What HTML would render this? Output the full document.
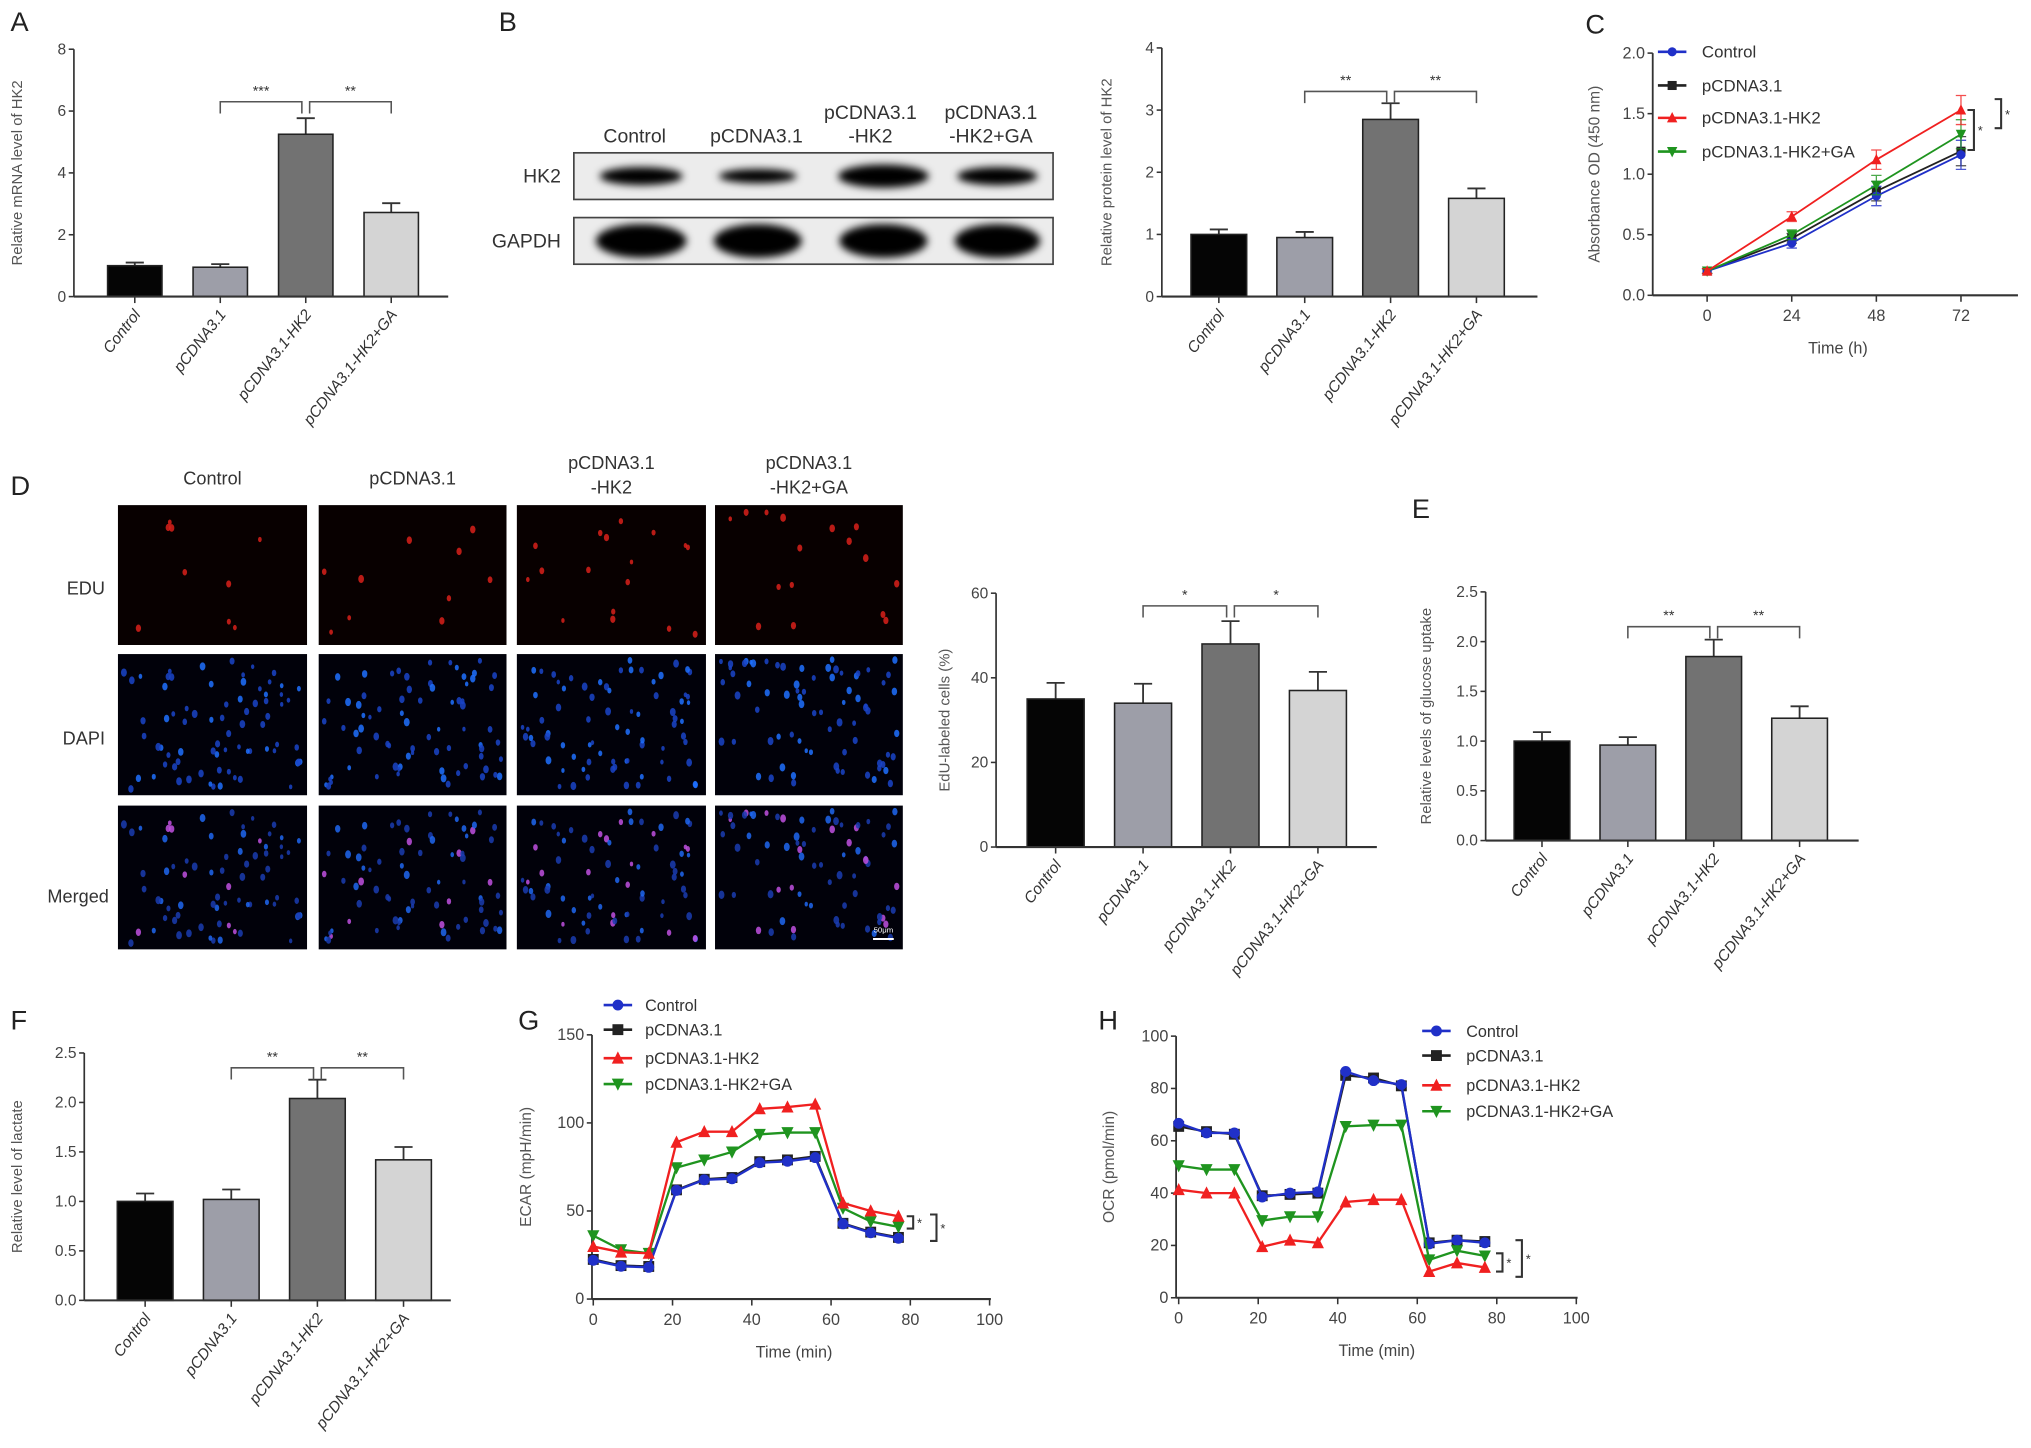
<!DOCTYPE html>
<html><head><meta charset="utf-8"><title>HK2 figure</title>
<style>
html,body{margin:0;padding:0;background:#fff;}
svg{display:block;font-family:"Liberation Sans",Arial,sans-serif;}
.nar{font-family:"Liberation Sans Narrow","Liberation Sans",sans-serif;}
</style></head>
<body>
<svg id="fig" xmlns="http://www.w3.org/2000/svg" width="2031" height="1448" viewBox="0 0 1568 1118">
<rect x="0" y="0" width="1568" height="1118" fill="#fff"/>
</svg>
<script>
// ---------- data ----------
const barCats = ['Control','pCDNA3.1','pCDNA3.1-HK2','pCDNA3.1-HK2+GA'];
const aVals = [1.0, 0.95, 5.25, 2.72];
const aErr  = [0.1, 0.1, 0.52, 0.3];
const aTicks = [0,2,4,6,8];
const bVals = [1.0, 0.95, 2.85, 1.58];
const bErr  = [0.08, 0.09, 0.26, 0.16];
const bTicks = [0,1,2,3,4];
const dVals = [35, 34, 48, 37];
const dErr  = [3.8, 4.6, 5.4, 4.4];
const dTicks = [0,20,40,60];
const eVals = [1.0, 0.96, 1.85, 1.23];
const eErr  = [0.09, 0.08, 0.17, 0.12];
const eTicks = [0,0.5,1.0,1.5,2.0,2.5];
const fVals = [1.0, 1.02, 2.04, 1.42];
const fErr  = [0.08, 0.1, 0.19, 0.13];
const fTicks = [0,0.5,1.0,1.5,2.0,2.5];
const seriesNames = ['Control','pCDNA3.1','pCDNA3.1-HK2','pCDNA3.1-HK2+GA'];
const cTimes = [0,24,48,72];
const cControl = [0.2,0.43,0.82,1.16];
const cVector  = [0.2,0.47,0.86,1.19];
const cHK2     = [0.2,0.65,1.12,1.53];
const cGA      = [0.2,0.5,0.91,1.33];
const cErrs    = [0.02,0.04,0.08,0.12];
const cTicksY = [0,0.5,1.0,1.5,2.0];
const seahTimes = [0,7,14,21,28,35,42,49,56,63,70,77];
const gControl = [22,18.6,18,61.7,67.7,68.3,77.4,78.2,80.3,42.7,37.6,34.5];
const gVector  = [22.5,19,18.5,62,68,69,78,79,81,43,38,35];
const gHK2     = [29.8,26.6,26,89,95,95,108,109,110.6,54.5,50,47];
const gGA      = [36,28,26,74.6,79,83.5,93.5,94.5,94.5,51.6,44,41];
const gTicksY = [0,50,100,150];
const hControl = [66.7,63,63,38.5,40,40.5,86.5,83,81.5,20.6,22,21];
const hVector  = [65.5,63.5,62.5,39,39.5,40,85,84,81,21,22,21.5];
const hHK2     = [41.3,40,40,19.5,22,21,36.6,37.5,37.5,10,13.3,11.6];
const hGA      = [50.5,49,49,29.5,31,31,65.5,66,66,14.5,18,16];
const hTicksY = [0,20,40,60,80,100];
const timeTicks = [0,20,40,60,80,100];

const NS='http://www.w3.org/2000/svg';
const svg=document.getElementById('fig');
function el(tag, attrs, parent){
  const e=document.createElementNS(NS,tag);
  for(const k in attrs) e.setAttribute(k,attrs[k]);
  (parent||svg).appendChild(e);
  return e;
}
function txt(str, attrs, parent){
  const e=el('text',attrs,parent);
  e.textContent=str;
  return e;
}
function panelLabel(ch,x,y){
  const t=txt(ch,{x:x,y:y,'font-size':21,fill:'#222'});
  
  
}
const barColors=['#050505','#9d9ea8','#727272','#d4d4d4'];
function fmt(v,dec){return dec?v.toFixed(dec):String(v);}

function barChart(key,cfg,vals,errs,ticks){
  const g=el('g',{});
  
  
  const ys=v=>cfg.y0-(v/cfg.max)*(cfg.y0-cfg.yTop);
  const xc=i=>cfg.c0+i*cfg.step;
  const ya=el('line',{x1:cfg.ax,y1:cfg.yTop,x2:cfg.ax,y2:cfg.y0,stroke:'#333','stroke-width':1.3},g);
  
  
  ticks.forEach(t=>{
    const y=ys(t);
    const tk=el('line',{x1:cfg.ax-4,y1:y,x2:cfg.ax,y2:y,stroke:'#333','stroke-width':1.2},g);
    
    
    const tl=txt(fmt(t,cfg.dec),{x:cfg.ax-6,y:y+4,'font-size':12,'text-anchor':'end',fill:'#444',class:'nar'},g);
    
    
  });
  const ttl=txt(cfg.title,{x:0,y:0,'font-size':11.5,'text-anchor':'middle',fill:'#555',transform:'translate('+cfg.titleX+','+((cfg.yTop+cfg.y0)/2)+') rotate(-90)'},g);
  
  
  vals.forEach((v,i)=>{
    const x=xc(i), y=ys(v), ye=ys(v+errs[i]);
    const eb=el('path',{d:'M'+x+' '+y+'V'+ye+'M'+(x-7)+' '+ye+'H'+(x+7),stroke:'#333','stroke-width':1.4,fill:'none'},g);
    
    
    const b=el('rect',{x:x-cfg.bw/2,y:y,width:cfg.bw,height:cfg.y0-y,fill:barColors[i],stroke:'#222','stroke-width':1.2},g);
    
    
  });
  const xa=el('line',{x1:cfg.ax,y1:cfg.y0,x2:cfg.xEnd,y2:cfg.y0,stroke:'#333','stroke-width':1.6},g);
  
  
  barCats.forEach((c,i)=>{
    const x=xc(i);
    const tk=el('line',{x1:x,y1:cfg.y0,x2:x,y2:cfg.y0+5,stroke:'#333','stroke-width':1.2},g);
    
    
    const tl=txt(c,{x:0,y:0,'font-size':12,'text-anchor':'end',fill:'#333','font-style':'italic',class:'nar',transform:'translate('+(x+5)+','+(cfg.y0+14)+') rotate(-52)'},g);
    
    
  });
  const by=ys(cfg.sigY);
  [[1,2],[2,3]].forEach((p,k)=>{
    const x1=xc(p[0])+(k===1?3:0), x2=xc(p[1])-(k===0?3:0);
    const br=el('path',{d:'M'+x1+' '+(by+9)+'V'+by+'H'+x2+'V'+(by+9),stroke:'#555','stroke-width':1.2,fill:'none'},g);
    
    
    const st=txt(cfg.stars[k],{x:(x1+x2)/2,y:by-5,'font-size':11,'text-anchor':'middle',fill:'#333'},g);
    
    
  });
}

barChart('a',{ax:57,y0:229,yTop:38,max:8,c0:104,step:66,bw:42,xEnd:346,title:'Relative  mRNA level of HK2',titleX:17,sigY:6.3,stars:['***','**']},aVals,aErr,aTicks);
barChart('b',{ax:897,y0:229,yTop:37,max:4,c0:941,step:66.3,bw:43,xEnd:1187,title:'Relative  protein level of HK2',titleX:858,sigY:3.3,stars:['**','**']},bVals,bErr,bTicks);
barChart('d',{ax:769,y0:654,yTop:458,max:60,c0:815,step:67.5,bw:44,xEnd:1063,title:'EdU-labeled cells (%)',titleX:733,sigY:57,stars:['*','*']},dVals,dErr,dTicks);
barChart('e',{ax:1147,y0:649,yTop:457,max:2.5,c0:1190.5,step:66.3,bw:43,xEnd:1435,title:'Relative levels of glucose uptake',titleX:1105,sigY:2.15,stars:['**','**'],dec:1},eVals,eErr,eTicks);
barChart('f',{ax:65,y0:1004,yTop:813,max:2.5,c0:112,step:66.5,bw:43,xEnd:348,title:'Relative level of lactate',titleX:17,sigY:2.35,stars:['**','**'],dec:1},fVals,fErr,fTicks);

// ---------- line charts ----------
const lineStyles=[
  {color:'#2030c8',marker:'circle'},
  {color:'#222',marker:'square'},
  {color:'#f02020',marker:'up'},
  {color:'#1f941f',marker:'down'}
];
function marker(type,x,y,r,color,parent){
  let e;
  if(type==='circle') e=el('circle',{cx:x,cy:y,r:r,fill:color},parent);
  else if(type==='square') e=el('rect',{x:x-r,y:y-r,width:2*r,height:2*r,fill:color},parent);
  else if(type==='up') e=el('path',{d:'M'+x+' '+(y-r-1)+'L'+(x+r+0.5)+' '+(y+r)+'L'+(x-r-0.5)+' '+(y+r)+'Z',fill:color},parent);
  else e=el('path',{d:'M'+x+' '+(y+r+1)+'L'+(x+r+0.5)+' '+(y-r)+'L'+(x-r-0.5)+' '+(y-r)+'Z',fill:color},parent);
  return e;
}
function lineChart(key,cfg,xs,series,ticksY,ticksX,order){
  const g=el('g',{});
  
  
  const sx=v=>cfg.x0+(v-cfg.xmin)/(cfg.xmax-cfg.xmin)*(cfg.x1-cfg.x0);
  const sy=v=>cfg.y0-v/cfg.ymax*(cfg.y0-cfg.yTop);
  const cls=cfg.narrow?'nar':'';
  const ya=el('line',{x1:cfg.ax,y1:cfg.yTop,x2:cfg.ax,y2:cfg.y0,stroke:'#333','stroke-width':1.4},g);
  
  
  const xa=el('line',{x1:cfg.ax,y1:cfg.y0,x2:cfg.xEnd,y2:cfg.y0,stroke:'#333','stroke-width':1.6},g);
  
  
  ticksY.forEach(t=>{
    const y=sy(t);
    const tk=el('line',{x1:cfg.ax-4,y1:y,x2:cfg.ax,y2:y,stroke:'#333','stroke-width':1.2},g);
    
    
    const tl=txt(fmt(t,cfg.dec),{x:cfg.ax-6,y:y+4,'font-size':12.5,'text-anchor':'end',fill:'#444',class:cls},g);
    
    
  });
  ticksX.forEach(t=>{
    const x=sx(t);
    const tk=el('line',{x1:x,y1:cfg.y0,x2:x,y2:cfg.y0+5,stroke:'#333','stroke-width':1.2},g);
    
    
    const tl=txt(String(t),{x:x,y:cfg.y0+20,'font-size':12.5,'text-anchor':'middle',fill:'#444',class:cls},g);
    
    
  });
  const xt=txt(cfg.xTitle,{x:cfg.xTitleX,y:cfg.y0+45,'font-size':12.5,'text-anchor':'middle',fill:'#444',class:cls},g);
  
  
  const yt=txt(cfg.yTitle,{x:0,y:0,'font-size':12,'text-anchor':'middle',fill:'#555',transform:'translate('+cfg.yTitleX+','+((cfg.yTop+cfg.y0)/2)+') rotate(-90)'},g);
  
  
  order.forEach(si=>{
    const vals=series[si], st=lineStyles[si];
    const sg=el('g',{},g);
    
    
    if(cfg.errs){
      vals.forEach((v,i)=>{
        const x=sx(xs[i]);
        const eb=el('path',{d:'M'+x+' '+sy(v-cfg.errs[i])+'V'+sy(v+cfg.errs[i])+'M'+(x-4)+' '+sy(v+cfg.errs[i])+'H'+(x+4)+'M'+(x-4)+' '+sy(v-cfg.errs[i])+'H'+(x+4),stroke:st.color,'stroke-width':1,fill:'none',opacity:0.8},sg);
        
        
      });
    }
    const pts=vals.map((v,i)=>sx(xs[i])+','+sy(v)).join(' ');
    const pl=el('polyline',{points:pts,fill:'none',stroke:st.color,'stroke-width':cfg.lw},sg);
    
    
    vals.forEach((v,i)=>{
      const m=marker(st.marker,sx(xs[i]),sy(v),cfg.mr,st.color,sg);
      
      
    });
  });
  seriesNames.forEach((n,i)=>{
    const st=lineStyles[i], ly=cfg.legY[i];
    const lg=el('g',{},g);
    
    
    const ll=el('line',{x1:cfg.legX-11,y1:ly,x2:cfg.legX+11,y2:ly,stroke:st.color,'stroke-width':2},lg);
    
    
    const lm=marker(st.marker,cfg.legX,ly,cfg.mr,st.color,lg);
    
    
    const lt=txt(n,{x:cfg.legTX,y:ly+4.5,'font-size':cfg.legFs,fill:'#333',class:cls},lg);
    
    
  });
  return {sx:sx,sy:sy,g:g};
}
function sigMark(g,x,y1,y2,label){
  const p=el('path',{d:'M'+x+' '+y1+'H'+(x+5)+'V'+y2+'H'+x,stroke:'#333','stroke-width':1.6,fill:'none'},g);
  
  
  const t=txt(label,{x:x+8,y:(y1+y2)/2+4,'font-size':10,fill:'#333'},g);
  
  
}

const C=lineChart('c',{ax:1276,y0:228,yTop:41,ymax:2.0,x0:1318,x1:1514,xmin:0,xmax:72,xEnd:1558,dec:1,narrow:true,xTitle:'Time (h)',xTitleX:1419,yTitle:'Absorbance OD  (450 nm)',yTitleX:1235,legX:1291,legTX:1314,legY:[40,66,91,117],legFs:13,lw:1.4,mr:3.5,errs:cErrs},
  cTimes,[cControl,cVector,cHK2,cGA],cTicksY,cTimes,[1,0,3,2]);
sigMark(C.g,1519,C.sy(1.53),C.sy(1.2),'*');
sigMark(C.g,1540,C.sy(1.62),C.sy(1.38),'*');

const G=lineChart('g',{ax:457,y0:1003,yTop:799,ymax:150,x0:458,x1:764,xmin:0,xmax:100,xEnd:765,xTitle:'Time (min)',xTitleX:613,yTitle:'ECAR (mpH/min)',yTitleX:410,legX:477,legTX:498,legY:[776,795,817,837],legFs:12.5,lw:1.8,mr:4.2},
  seahTimes,[gControl,gVector,gHK2,gGA],gTicksY,timeTicks,[1,0,3,2]);
sigMark(G.g,700,G.sy(47),G.sy(40),'*');
sigMark(G.g,718,G.sy(48),G.sy(33),'*');

const H=lineChart('h',{ax:908,y0:1002,yTop:800,ymax:100,x0:910,x1:1217,xmin:0,xmax:100,xEnd:1218,xTitle:'Time (min)',xTitleX:1063,yTitle:'OCR (pmol/min)',yTitleX:860,legX:1109,legTX:1132,legY:[796,815,838,858],legFs:12.5,lw:1.8,mr:4.2},
  seahTimes,[hControl,hVector,hHK2,hGA],hTicksY,timeTicks,[1,0,3,2]);
sigMark(H.g,1155,H.sy(17),H.sy(10),'*');
sigMark(H.g,1170,H.sy(22),H.sy(8),'*');

panelLabel('A',8,24);
panelLabel('B',385,24);
panelLabel('C',1224,26);
panelLabel('D',8,382);
panelLabel('E',1090,400);
panelLabel('F',8,795);
panelLabel('G',400,795);
panelLabel('H',848,795);

// ---------- western blot ----------
(function(){
  const g=el('g',{});
  
  
  const heads=[['Control'],['pCDNA3.1'],['pCDNA3.1','-HK2'],['pCDNA3.1','-HK2+GA']];
  const hx=[490,584,672,765];
  heads.forEach((h,i)=>{
    const t=txt('',{x:hx[i],y:0,'font-size':15,'text-anchor':'middle',fill:'#333',class:'nar'},g);
    
    
    h.forEach((line,j)=>{
      const ts=el('tspan',{x:hx[i],y:(h.length===1?110:(92+j*18))},t);
      ts.textContent=line;
    });
  });
  const l1=txt('HK2',{x:433,y:141,'font-size':15,'text-anchor':'end',fill:'#333',class:'nar'},g);
  
  
  const l2=txt('GAPDH',{x:433,y:191,'font-size':15,'text-anchor':'end',fill:'#333',class:'nar'},g);
  
  
  const defs=el('defs',{},g);
  const flt=el('filter',{id:'blur',x:'-30%',y:'-80%',width:'160%',height:'260%'},defs);
  el('feGaussianBlur',{stdDeviation:3},flt);
  [[118,154],[168,204]].forEach((r,k)=>{
    const box=el('rect',{x:443,y:r[0],width:370,height:r[1]-r[0],fill:'#ececec',stroke:'#444','stroke-width':1.3},g);
    
    
    const cy=(r[0]+r[1])/2;
    const bandW=k===0?[64,60,70,62]:[70,68,68,66];
    const bandH=k===0?[14,11,18,14]:[26,26,26,26];
    [495,585,682,770].forEach((bx,i)=>{
      const b=el('ellipse',{cx:bx,cy:cy,rx:bandW[i]/2,ry:bandH[i]/2,fill:'#050505',filter:'url(#blur)'},g);
      
      
    });
  });
})();

// ---------- microscopy images ----------
(function(){
  const g=el('g',{});
  
  
  const heads=[['Control'],['pCDNA3.1'],['pCDNA3.1','-HK2'],['pCDNA3.1','-HK2+GA']];
  const cols=[[91,237],[246,391],[399,545],[552,697]];
  const rows=[[390,498],[505,614],[622,733]];
  heads.forEach((h,i)=>{
    const cx=(cols[i][0]+cols[i][1])/2;
    const t=txt('',{x:cx,y:0,'font-size':14,'text-anchor':'middle',fill:'#333'},g);
    
    
    h.forEach((line,j)=>{
      const ts=el('tspan',{x:cx,y:(h.length===1?374:(362+j*19))},t);
      ts.textContent=line;
    });
  });
  const rl=[['EDU',81,459],['DAPI',81,575],['Merged',84,697]];
  rl.forEach(r=>{
    const t=txt(r[0],{x:r[1],y:r[2],'font-size':14,'text-anchor':'end',fill:'#333'},g);
    
    
  });
  let seed=12345;
  function rnd(){seed=(seed*1103515245+12345)%2147483648;return seed/2147483648;}
  cols.forEach((c,ci)=>{
    const w=c[1]-c[0];
    const cells=[];
    for(let k=0;k<75;k++){cells.push({x:rnd(),y:rnd(),r:1.5+rnd()*1.2,edu:rnd()<[0.12,0.13,0.2,0.13][ci],b:rnd()});}
    rows.forEach((r,ri)=>{
      const rh=r[1]-r[0];
      const bg=el('rect',{x:c[0],y:r[0],width:w,height:rh,fill:ri===0?'#080000':'#01010a'},g);
      
      
      cells.forEach(cell=>{
        if(ri===0 && !cell.edu) return;
        const x=c[0]+4+cell.x*(w-8), y=r[0]+4+cell.y*(rh-8);
        let col;
        if(ri===0) col='#d8201a';
        else if(ri===1) col=cell.b>0.6?'#1f70ff':'#1a44c8';
        else col=cell.edu?'#c050e0':(cell.b>0.6?'#1f66f0':'#1a3cb0');
        const d=el('ellipse',{cx:x,cy:y,rx:cell.r*0.85,ry:cell.r*1.2,fill:col,opacity:0.85},g);
        
        
      });
    });
  });
  const sb=el('line',{x1:674,y1:725,x2:690,y2:725,stroke:'#fff','stroke-width':1.5},g);
  
  
  const st=txt('50μm',{x:682,y:720,'font-size':6,'text-anchor':'middle',fill:'#fff'},g);
  
  
})();
</script>
</body></html>
